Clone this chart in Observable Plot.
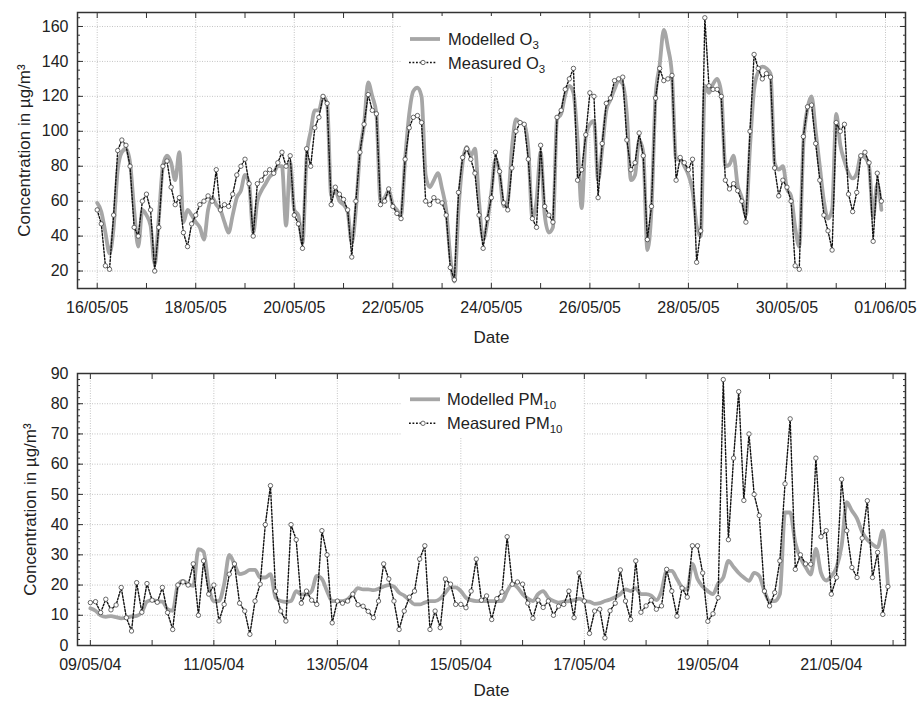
<!DOCTYPE html>
<html><head><meta charset="utf-8">
<script src="https://cdn.jsdelivr.net/npm/d3@7"></script>
<script src="https://cdn.jsdelivr.net/npm/@observablehq/plot@0.6"></script>
<style>
body{margin:0;background:#fff;font-family:"Liberation Sans",Arial,sans-serif;}
#wrap{position:relative;width:920px;height:702px;overflow:hidden;background:#fff}
#wrap > svg{display:block}
#overlay{position:absolute;left:0;top:0;pointer-events:none}
</style></head><body><div id="wrap"></div>
<script>
// ---- data (2-hourly samples) ----
const STEP_HOURS = 2;
const o3Start = "2005-05-16T00:00Z";
const pmStart = "2004-05-09T00:00Z";

const o3Modelled = [
59,54,42,30,45,78,88,90,82,55,34,55,
52,46,24,50,80,86,82,72,88,48,55,52,
48,45,38,55,62,58,55,48,42,52,62,66,
75,70,42,60,66,70,74,76,80,80,46,82,
55,52,36,85,100,112,112,120,116,63,66,60,
58,54,36,55,88,104,128,120,110,60,62,66,
58,55,52,84,110,123,125,120,75,68,72,76,
67,55,28,14,55,82,91,86,90,60,38,48,
65,84,76,57,60,90,107,105,104,90,50,60,
88,52,42,45,107,110,121,126,122,95,56,97,
104,106,72,90,112,118,124,129,127,110,72,75,
95,88,32,55,120,138,158,148,132,84,84,80,
75,66,46,40,126,122,127,130,122,80,81,86,
69,62,52,91,124,134,137,136,133,82,78,80,
67,63,45,34,93,113,120,100,80,60,50,55,
110,92,83,76,73,76,86,85,80,51,70,55
];
const o3Measured = [
55,47,23,21,52,89,95,92,80,45,40,60,
64,55,20,45,80,83,68,58,62,42,34,47,
52,58,60,63,60,78,55,58,57,64,75,80,
84,70,40,70,72,76,78,76,82,88,80,86,
52,47,33,90,80,102,108,120,116,58,68,64,
61,55,28,60,88,104,121,112,110,58,60,67,
57,53,50,84,102,108,109,105,60,58,62,60,
59,52,22,15,65,85,90,84,76,52,33,50,
62,88,77,59,55,79,100,105,104,84,50,45,
92,57,52,48,108,112,124,130,136,72,78,98,
122,120,62,93,116,119,129,130,131,95,78,82,
99,86,38,57,119,136,129,130,132,72,85,82,
78,84,25,43,165,126,124,124,120,72,67,70,
66,60,48,100,144,136,130,133,131,79,63,72,
68,60,23,21,97,114,115,93,72,52,43,32,
105,100,104,64,54,65,86,88,82,37,76,60
];
const pmModelled = [
12.3,11.5,10,9.5,9.7,9.4,9,9.2,9.6,9.8,11,14.5,
15,14.7,14.5,12,11.5,20,21.4,20.3,19.7,31.9,31,19.7,
14.7,14.7,20.3,30,26.9,23.6,24.1,25,25,22.5,22.5,23.6,
15.8,14.7,14.4,14.7,18,16.9,16.9,18,23,22,18,14.7,
14.7,14.7,15.3,17,19,18.6,18.6,18.3,18.8,19.5,20,19.5,
17.5,16.5,15,13.6,13.6,14.2,14.7,14.7,15.5,17.5,19.2,19.2,
18,15.8,15,14.7,14.7,14.7,14.7,14.7,14.7,18,20.3,19.2,
17,15.5,14.7,17,18,15.8,14.7,14.2,14.5,14.7,15,15.5,
14.7,14.5,13.8,14,14.7,15.2,16,17,18.6,18,19,17,
17,16.5,15,18,24.7,24.7,22,19.2,18.5,27,22,19.5,
18,17,20.5,22.5,28,26,24,22.5,21.4,24,23,18,
14.7,14.7,17,44,44,34,29,26,23.5,32,24,21.5,
23,25.8,33,47.4,44.6,42,37.5,35,33.5,32.5,38,20
];
const pmMeasured = [
14.2,14.5,10.9,15.3,11.8,13.4,19.2,9.2,4.8,20.8,11,20.5,
15,14.3,19.2,10.9,5.3,20,21,20,27,10,28,17,
20,8.1,13.6,23.6,27,14,11.4,3.7,14.7,20.3,40,52.9,
18,11.4,8.1,40,35,14,18,15,13.6,38,30,7.5,
14.7,14,14.7,17,13.5,13,11.3,9.2,14.7,27,22,14.7,
5.3,11.4,16,18,28.6,33,5.3,11.4,5.9,22,20.3,13.6,
13.6,12.5,18,28.6,15,16.4,8.6,15.5,17.7,36,20.3,21,
20.3,14,9,15,12.6,14.7,10,13,13.6,18,9.2,24,
14.7,4,11.4,12,2.5,11.5,14,25,14.7,8.6,28,11,
13.1,15,12,13.1,25.2,18,9.7,19,16,33,33,24,
8,10.5,15.8,88,35,62,84,48,70,50,43,18,
13.1,17.5,28,53.5,75,25.2,30,27,26.9,62,36,38,
17,22.5,55,38,25.8,22.5,35.5,47.9,22.5,30.8,10.3,19.5
];

const o3TickLabels = ["16/05/05","18/05/05","20/05/05","22/05/05","24/05/05","26/05/05","28/05/05","30/05/05","01/06/05"];
const pmTickLabels = ["09/05/04","11/05/04","13/05/04","15/05/04","17/05/04","19/05/04","21/05/04"];
const o3YTicks = [20,40,60,80,100,120,140,160];
const pmYTicks = [0,10,20,30,40,50,60,70,80,90];
const o3YMinorStep = 5;
const pmYMinorStep = 2;
const o3XDomain = ["2005-05-15T14:24Z","2005-06-01T09:45Z"];
const pmXDomain = ["2004-05-08T19:00Z","2004-05-22T04:50Z"];
const o3YDomain = [10,168];
const pmYDomain = [0,90];
const yLabel = "Concentration in µg/m³";
const xLabel = "Date";

// ---- build ----
const FONT = '"Liberation Sans", Arial, Helvetica, sans-serif';
const parseTick = d3.utcParse("%d/%m/%y");
const fmtTick = d3.utcFormat("%d/%m/%y");

function series(values, start) {
  const t0 = new Date(start);
  return values.map((v, i) => ({date: new Date(+t0 + i * STEP_HOURS * 3600e3), value: v}));
}

function panel({modelled, measured, start, tickLabels, yTicks, yMinorStep, xDomain, yDomain, height, marginTop, marginBottom, yLabelOffset, xLabelOffset}) {
  const mod = series(modelled, start);
  const mea = series(measured, start);
  const xd = xDomain.map(d => new Date(d));
  const major = tickLabels.map(parseTick);
  const days = d3.utcDay.range(d3.utcDay.ceil(xd[0]), xd[1]);
  const minorY = d3.range(Math.ceil(yDomain[0] / yMinorStep) * yMinorStep, yDomain[1] + 1e-9, yMinorStep);
  const frameColor = "#333";
  return Plot.plot({
    width: 920, height, marginTop, marginBottom, marginLeft: 77, marginRight: 15,
    style: {fontFamily: FONT, fontSize: "16px", color: "#222", background: "transparent", overflow: "visible"},
    x: {type: "utc", domain: xd},
    y: {domain: yDomain},
    marks: [
      Plot.gridX(major, {stroke: "#c4c4c4", strokeOpacity: 1, strokeWidth: 1, strokeDasharray: "1,1.5"}),
      Plot.gridY(yTicks, {stroke: "#c4c4c4", strokeOpacity: 1, strokeWidth: 1, strokeDasharray: "1,1.5"}),
      Plot.line(mod, {x: "date", y: "value", stroke: "#a6a6a6", strokeWidth: 3.8, curve: "monotone-x"}),
      Plot.line(mea, {x: "date", y: "value", stroke: "#111", strokeWidth: 1.4, strokeDasharray: "1.8,1.7"}),
      Plot.dot(mea, {x: "date", y: "value", r: 2.2, fill: "white", stroke: "#444", strokeWidth: 0.8}),
      Plot.frame({stroke: frameColor, strokeWidth: 1.5}),
      Plot.axisX(major, {anchor: "bottom", tickSize: 0, tickPadding: 13, tickFormat: fmtTick, label: null, fontSize: 16, fill: "#222"}),
      Plot.axisX(days, {anchor: "bottom", tickSize: -5, fill: "none", stroke: frameColor, label: null}),
      Plot.axisX(days, {anchor: "top", tickSize: -5, fill: "none", stroke: frameColor, label: null}),
      Plot.axisY(yTicks, {anchor: "left", tickSize: 0, tickPadding: 9, label: null, fontSize: 16, fill: "#222"}),
      Plot.axisY(yTicks, {anchor: "left", tickSize: -6, fill: "none", stroke: frameColor, label: null}),
      Plot.axisY(minorY, {anchor: "left", tickSize: -3, fill: "none", stroke: frameColor, label: null}),
      Plot.axisY(yTicks, {anchor: "right", tickSize: -6, fill: "none", stroke: frameColor, label: null}),
      Plot.axisY(minorY, {anchor: "right", tickSize: -3, fill: "none", stroke: frameColor, label: null}),
      Plot.text([yLabel], {text: d => d, frameAnchor: "left", textAnchor: "middle", rotate: -90, lineAnchor: "top", dx: -yLabelOffset, fontSize: 17, fill: "#222"}),
      Plot.text([xLabel], {text: d => d, frameAnchor: "bottom", textAnchor: "middle", lineAnchor: "middle", dy: xLabelOffset, fontSize: 17, fill: "#222"})
    ]
  });
}

const wrap = document.getElementById("wrap");
wrap.appendChild(panel({
  modelled: o3Modelled, measured: o3Measured, start: o3Start, tickLabels: o3TickLabels,
  yTicks: o3YTicks, yMinorStep: o3YMinorStep, xDomain: o3XDomain, yDomain: o3YDomain,
  height: 355, marginTop: 12, marginBottom: 67, yLabelOffset: 60, xLabelOffset: 49
}));
wrap.appendChild(panel({
  modelled: pmModelled, measured: pmMeasured, start: pmStart, tickLabels: pmTickLabels,
  yTicks: pmYTicks, yMinorStep: pmYMinorStep, xDomain: pmXDomain, yDomain: pmYDomain,
  height: 347, marginTop: 18, marginBottom: 57, yLabelOffset: 54, xLabelOffset: 45
}));

// ---- legends (overlay) ----
const NS = "http://www.w3.org/2000/svg";
const ov = document.createElementNS(NS, "svg");
ov.setAttribute("id", "overlay");
ov.setAttribute("width", 920); ov.setAttribute("height", 702);
ov.setAttribute("font-family", FONT);
function el(tag, attrs, parent) {
  const e = document.createElementNS(NS, tag);
  for (const k in attrs) e.setAttribute(k, attrs[k]);
  (parent || ov).appendChild(e);
  return e;
}
function legend(box, rows) {
  el("rect", {x: box[0], y: box[1], width: box[2], height: box[3], fill: "white"});
  rows.forEach((r, i) => {
    if (i === 0) {
      el("line", {x1: 410, x2: 440, y1: r.y, y2: r.y, stroke: "#a6a6a6", "stroke-width": 3.8});
    } else {
      el("line", {x1: 409, x2: 437, y1: r.y, y2: r.y, stroke: "#111", "stroke-width": 1.4, "stroke-dasharray": "1.8,1.7"});
      el("circle", {cx: 423, cy: r.y, r: 2.2, fill: "white", stroke: "#444", "stroke-width": 0.8});
    }
    const t = el("text", {x: r.tx, y: r.y + 6, "font-size": 16.5, fill: "#222"});
    t.appendChild(document.createTextNode(r.main));
    const s = el("tspan", {dy: 4, "font-size": 11.5}, t);
    s.appendChild(document.createTextNode(r.sub));
  });
}
legend([402, 16, 160, 60], [
  {y: 39, tx: 448, main: "Modelled O", sub: "3"},
  {y: 62.5, tx: 448, main: "Measured O", sub: "3"}
]);
legend([402, 378, 181, 59], [
  {y: 399.3, tx: 447, main: "Modelled PM", sub: "10"},
  {y: 423.3, tx: 447, main: "Measured PM", sub: "10"}
]);
wrap.appendChild(ov);
</script></body></html>
